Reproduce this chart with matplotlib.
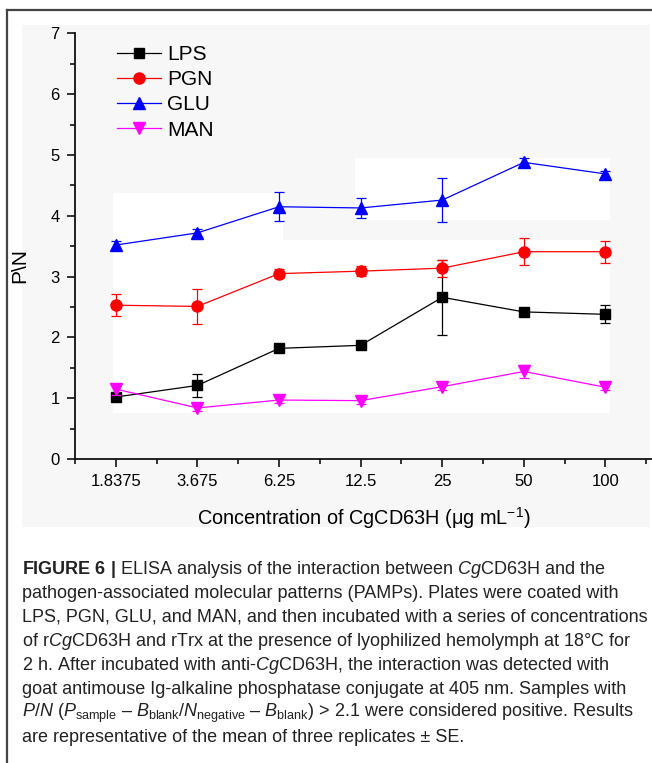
import numpy as np
import matplotlib
matplotlib.use("Agg")
import matplotlib.pyplot as plt
from matplotlib.patches import Rectangle
from matplotlib.lines import Line2D

plt.rcParams['font.family'] = ['Liberation Sans', 'DejaVu Sans']
plt.rcParams['mathtext.fontset'] = 'custom'
plt.rcParams['mathtext.rm'] = 'Liberation Sans'
plt.rcParams['mathtext.it'] = 'Liberation Sans:italic'
plt.rcParams['mathtext.bf'] = 'Liberation Sans:bold'

# data
concentrations = ['1.8375', '3.675', '6.25', '12.5', '25', '50', '100']
series_names = ['LPS', 'PGN', 'GLU', 'MAN']

lps = [1.02, 1.21, 1.82, 1.87, 2.66, 2.42, 2.38]
lps_err = [0.03, 0.19, 0.03, 0.03, 0.62, 0.04, 0.15]
pgn = [2.53, 2.51, 3.05, 3.09, 3.14, 3.41, 3.41]
pgn_err = [0.18, 0.29, 0.08, 0.08, 0.14, 0.22, 0.18]
glu = [3.52, 3.72, 4.15, 4.13, 4.26, 4.88, 4.69]
glu_err = [0.06, 0.06, 0.24, 0.17, 0.36, 0.08, 0.05]
man = [1.15, 0.84, 0.97, 0.96, 1.19, 1.44, 1.18]
man_err = [0.09, 0.05, 0.05, 0.05, 0.05, 0.11, 0.05]

values = [lps, pgn, glu, man]
errors = [lps_err, pgn_err, glu_err, man_err]
colors = ['black', '#ff0000', '#0000ff', '#ff00ff']
markers = ['s', 'o', '^', 'v']
msizes = [7, 8, 8, 8]

caption = [
    r"$\mathbf{FIGURE\ 6\ |}$ ELISA analysis of the interaction between $\mathit{Cg}$CD63H and the",
    "pathogen-associated molecular patterns (PAMPs). Plates were coated with",
    "LPS, PGN, GLU, and MAN, and then incubated with a series of concentrations",
    r"of r$\mathit{Cg}$CD63H and rTrx at the presence of lyophilized hemolymph at 18°C for",
    r"2 h. After incubated with anti-$\mathit{Cg}$CD63H, the interaction was detected with",
    "goat antimouse Ig-alkaline phosphatase conjugate at 405 nm. Samples with",
    r"$\mathit{P/N}$ ($\mathit{P}_{\mathrm{sample}}$ – $\mathit{B}_{\mathrm{blank}}$/$\mathit{N}_{\mathrm{negative}}$ – $\mathit{B}_{\mathrm{blank}}$) > 2.1 were considered positive. Results",
    "are representative of the mean of three replicates ± SE.",
]

W, H = 652, 763
fig = plt.figure(figsize=(W / 100, H / 100), dpi=100)

def fx(px):
    return px / W

def fy(py):
    return 1 - py / H

# grey panel behind the chart, with the lighter patches of the original
fig.add_artist(Rectangle((fx(22), fy(527)), fx(650 - 22), (527 - 25) / H,
                         transform=fig.transFigure, facecolor='#f7f7f7',
                         edgecolor='none', zorder=-2))
for x0, y0, x1, y1 in [(113, 193, 283, 413), (283, 240, 610, 413), (355, 158, 610, 220)]:
    fig.add_artist(Rectangle((fx(x0), fy(y1)), fx(x1 - x0), (y1 - y0) / H,
                             transform=fig.transFigure, facecolor='white',
                             edgecolor='none', zorder=-1))

# frame lines (left and top)
fig.add_artist(Line2D([fx(7), fx(7)], [0, fy(10)], color='#444444', lw=1.6,
                      transform=fig.transFigure))
fig.add_artist(Line2D([fx(7), 1], [fy(10), fy(10)], color='#444444', lw=1.6,
                      transform=fig.transFigure))

ax = fig.add_axes([fx(75), fy(459), fx(652 - 75), (459 - 33.5) / H])
ax.set_facecolor('none')

x = np.arange(len(concentrations))
handles = []
for name, v, e, c, m, ms in zip(series_names, values, errors, colors, markers, msizes):
    ax.errorbar(x, v, yerr=e, fmt='none', ecolor=c, elinewidth=0.9,
                capsize=3.5, capthick=0.9)
    h, = ax.plot(x, v, color=c, lw=0.9, marker=m, ms=ms, label=name)
    handles.append(h)

ax.set_xlim(-0.5, 6.57)
ax.set_ylim(0, 7)
ax.set_xticks(x)
ax.set_xticklabels(concentrations)
ax.set_xticks(np.arange(-0.5, 6.6, 1.0), minor=True)
ax.set_yticks(np.arange(0, 8, 1))
ax.set_yticks(np.arange(0.5, 7, 1.0), minor=True)

for s in ['top', 'right']:
    ax.spines[s].set_visible(False)
for s in ['left', 'bottom']:
    ax.spines[s].set_linewidth(1.3)
    ax.spines[s].set_color('#111111')

ax.tick_params(which='major', direction='out', length=6, width=1.2,
               labelsize=12, pad=5, color='#111111')
ax.tick_params(which='minor', direction='out', length=3.5, width=1.2,
               color='#111111')

ax.set_xlabel(r"Concentration of CgCD63H (μg mL$^{-1}$)", fontsize=14.3)
ax.xaxis.set_label_coords(0.5, -0.108)
ax.set_ylabel("P\\N", fontsize=15)
ax.yaxis.set_label_coords(-0.08, 0.455)

ax.legend(handles=handles, loc='upper left', frameon=False, fontsize=15,
          bbox_to_anchor=(fx(117), fy(45)), bbox_transform=fig.transFigure,
          borderpad=0, borderaxespad=0, labelspacing=0.3,
          handlelength=2.1, handletextpad=0.3)

# caption
for i, line in enumerate(caption):
    fig.text(fx(22), fy(569 + 24 * i), line, fontsize=13.0, va='center',
             ha='left', color='#222222')

fig.savefig('out.png', dpi=100)
